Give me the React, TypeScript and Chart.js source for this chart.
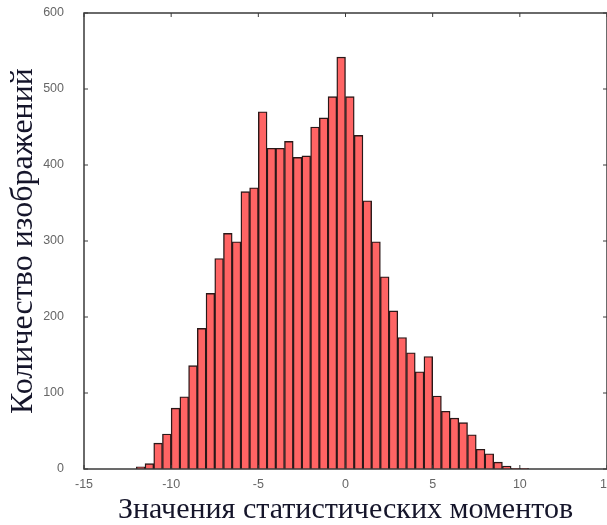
import React, { useEffect, useRef } from 'react';
import { Chart, registerables } from 'chart.js';

Chart.register(...registerables);

// Histogram bins (left edge of each 0.5-wide bin) and counts
const binStarts = [
  -12, -11.5, -11, -10.5, -10, -9.5, -9, -8.5, -8, -7.5, -7, -6.5, -6, -5.5, -5,
  -4.5, -4, -3.5, -3, -2.5, -2, -1.5, -1, -0.5, 0, 0.5, 1, 1.5, 2, 2.5, 3, 3.5,
  4, 4.5, 5, 5.5, 6, 6.5, 7, 7.5, 8, 8.5, 9, 9.5, 10,
];
const counts = [
  3, 7, 34, 46, 80, 95, 136, 185, 231, 277, 310, 299, 365, 370, 470,
  422, 422, 431, 410, 412, 450, 462, 490, 542, 490, 439, 353, 299, 253, 208, 173, 153,
  128, 148, 96, 76, 67, 61, 45, 26, 20, 9, 4, 1, 1,
];
const binWidth = 0.5;
const xTicks = [-15, -10, -5, 0, 5, 10, 15];
const yTicks = [0, 100, 200, 300, 400, 500, 600];
const xTitle = 'Значения статистических моментов';
const yTitle = 'Количество изображений';

const boxPlugin = {
  id: 'matlabBox',
  afterDraw(chart: any) {
    const { ctx, chartArea: a, scales } = chart;
    ctx.save();
    ctx.strokeStyle = '#3a3a3a';
    ctx.lineWidth = 1.5;
    ctx.strokeRect(a.left, a.top, a.right - a.left, a.bottom - a.top);
    ctx.lineWidth = 1;
    const L = 4;
    ctx.beginPath();
    for (const v of xTicks) {
      const px = scales.x.getPixelForValue(v);
      ctx.moveTo(px, a.top);
      ctx.lineTo(px, a.top + L);
      ctx.moveTo(px, a.bottom);
      ctx.lineTo(px, a.bottom - L);
    }
    for (const v of yTicks) {
      const py = scales.y.getPixelForValue(v);
      ctx.moveTo(a.left, py);
      ctx.lineTo(a.left + L, py);
      ctx.moveTo(a.right, py);
      ctx.lineTo(a.right - L, py);
    }
    ctx.stroke();
    ctx.restore();
  },
};

export default function App() {
  const ref = useRef<HTMLCanvasElement | null>(null);

  useEffect(() => {
    if (!ref.current) return;
    const data = binStarts.map((s, i) => ({ x: s + binWidth / 2, y: counts[i] }));
    const tickFont = { family: 'Liberation Sans, Arial, sans-serif', size: 12.5 };
    const chart = new Chart(ref.current, {
      type: 'bar',
      data: {
        datasets: [
          {
            data,
            backgroundColor: '#ff6464',
            borderColor: '#2a1818',
            borderWidth: 1.4,
            barPercentage: 1,
            categoryPercentage: 1,
            grouped: false,
          } as any,
        ],
      },
      plugins: [boxPlugin],
      options: {
        animation: false,
        responsive: false,
        devicePixelRatio: 1,
        layout: { padding: { top: 13, right: 0, left: 0, bottom: 0 } },
        plugins: { legend: { display: false }, tooltip: { enabled: false } },
        scales: {
          x: {
            type: 'linear',
            min: -15,
            max: 15,
            offset: false,
            afterFit(scale: any) {
              scale.paddingRight = 0;
              scale.paddingLeft = 0;
              scale.height = 56;
            },
            afterBuildTicks(scale: any) {
              scale.ticks = xTicks.map((v) => ({ value: v }));
            },
            grid: { display: false, drawTicks: false },
            border: { display: false },
            ticks: { font: tickFont, color: '#666', padding: 8, maxRotation: 0 },
            title: {
              display: true,
              text: xTitle,
              font: { family: 'Liberation Serif, Times New Roman, serif', size: 30 },
              color: '#15152a',
              padding: { top: 0, bottom: -3 },
            },
          },
          y: {
            min: 0,
            max: 600,
            afterFit(scale: any) {
              scale.paddingTop = 0;
              scale.paddingBottom = 0;
              scale.width = 84;
            },
            afterBuildTicks(scale: any) {
              scale.ticks = yTicks.map((v) => ({ value: v }));
            },
            grid: { display: false, drawTicks: false },
            border: { display: false },
            ticks: { font: tickFont, color: '#666', padding: 20 },
            title: {
              display: true,
              text: yTitle,
              font: { family: 'Liberation Serif, Times New Roman, serif', size: 32 },
              color: '#15152a',
              padding: { top: 4, bottom: 0 },
            },
          },
        },
      } as any,
    });
    return () => chart.destroy();
  }, []);

  return (
    <div style={{ position: 'absolute', left: 0, top: 0, width: 607, height: 525, overflow: 'hidden', background: '#fff' }}>
      <canvas ref={ref} width={607} height={525} />
    </div>
  );
}
